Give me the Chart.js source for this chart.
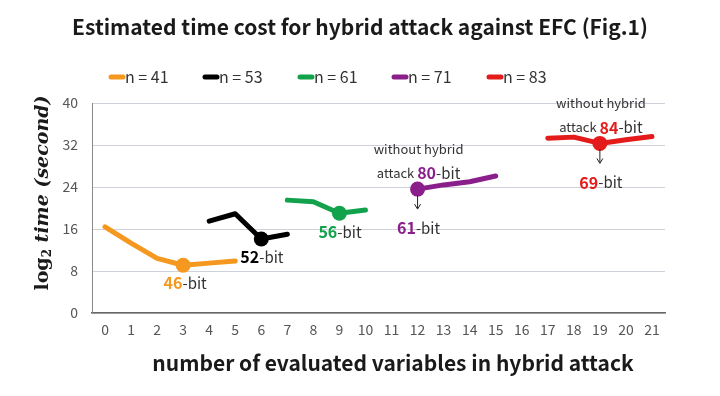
<!DOCTYPE html>
<html>
<head>
<meta charset="utf-8">
<script src="https://cdn.jsdelivr.net/npm/chart.js@4.4.0/dist/chart.umd.min.js"></script>
<style>
  html, body { margin: 0; padding: 0; background: #fff; }
  #wrap { width: 720px; height: 396px; }
</style>
</head>
<body>
<div id="wrap"><canvas id="efc"></canvas></div>
<script>
// x categories: number of evaluated variables
const xLabels = ["0","1","2","3","4","5","6","7","8","9","10","11","12","13","14","15","16","17","18","19","20","21"];
const yTicks = [0, 8, 16, 24, 32, 40];

// log2 time (second), null where the series has no value
const n41 = [16.4, 13.3, 10.4, 9.1, 9.5, 9.9, null, null, null, null, null, null, null, null, null, null, null, null, null, null, null, null];
const n53 = [null, null, null, null, 17.5, 18.9, 14.1, 15.0, null, null, null, null, null, null, null, null, null, null, null, null, null, null];
const n61 = [null, null, null, null, null, null, null, 21.5, 21.2, 19.0, 19.6, null, null, null, null, null, null, null, null, null, null, null];
const n71 = [null, null, null, null, null, null, null, null, null, null, null, null, 23.6, 24.4, 25.0, 26.1, null, null, null, null, null, null];
const n83 = [null, null, null, null, null, null, null, null, null, null, null, null, null, null, null, null, null, 33.3, 33.5, 32.3, 33.0, 33.6];

const seriesNames = ["n = 41", "n = 53", "n = 61", "n = 71", "n = 83"];
const colors = ["#f5981f", "#000000", "#12a24b", "#8a1f8c", "#e41b1b"];
const bestIdx = [3, 6, 9, 12, 19];
const bestBits = ["46", "52", "56", "61", "69"];
const plainBits = [null, null, null, "80", "84"];

const FONT = '"Noto Sans CJK JP", "Noto Sans", sans-serif';

function drawParts(ctx, parts, x, y, align) {
  let w = 0;
  parts.forEach(p => { ctx.font = p[1]; w += ctx.measureText(p[0]).width; });
  let cx = align === "center" ? x - w / 2 : x;
  ctx.textBaseline = "middle";
  ctx.textAlign = "left";
  parts.forEach(p => {
    ctx.font = p[1];
    ctx.fillStyle = p[2];
    ctx.fillText(p[0], cx, y + (p[3] || 0));
    cx += ctx.measureText(p[0]).width;
  });
}

const extras = {
  id: "extras",
  afterDraw(chart) {
    const ctx = chart.ctx;
    const xs = chart.scales.x, ys = chart.scales.y;
    ctx.save();

    // title
    drawParts(ctx, [["Estimated time cost for hybrid attack against EFC (Fig.1)", "bold 21px " + FONT, "#1a1a1a"]], 360, 27, "center");

    // legend
    const legX = [109, 203, 298, 392, 487];
    seriesNames.forEach((name, i) => {
      ctx.strokeStyle = colors[i];
      ctx.lineWidth = 5;
      ctx.lineCap = "round";
      ctx.beginPath();
      ctx.moveTo(legX[i] + 2, 77);
      ctx.lineTo(legX[i] + 14, 77);
      ctx.stroke();
      drawParts(ctx, [[name, "16px " + FONT, "#333"]], legX[i] + 16, 77, "left");
    });

    // x axis title
    drawParts(ctx, [["number of evaluated variables in hybrid attack", "bold 21px " + FONT, "#1a1a1a"]], 393, 363, "center");

    // y axis title
    ctx.save();
    ctx.translate(43, 193);
    ctx.rotate(-Math.PI / 2);
    drawParts(ctx, [
      ["log", "bold 19px 'DejaVu Serif'", "#1a1a1a"],
      ["2", "bold 12px 'DejaVu Serif'", "#1a1a1a", 5],
      [" time", "bold italic 19px 'DejaVu Serif'", "#1a1a1a"],
      [" (second)", "bold italic 19px 'DejaVu Serif'", "#1a1a1a"]
    ], 0, 0, "center");
    ctx.restore();

    // bit labels
    const numFont = "bold 16px " + FONT;
    const bitFont = "15px " + FONT;
    const smallFont = "13px " + FONT;
    const px = i => xs.getPixelForValue(bestIdx[i]);
    const py = i => ys.getPixelForValue(chart.data.datasets[i].data[bestIdx[i]]);

    drawParts(ctx, [[bestBits[0], numFont, colors[0]], ["-bit", bitFont, "#333"]], px(0) + 2, py(0) + 18, "center");
    drawParts(ctx, [[bestBits[1], numFont, colors[1]], ["-bit", bitFont, "#333"]], px(1) - 21, py(1) + 18, "left");
    drawParts(ctx, [[bestBits[2], numFont, colors[2]], ["-bit", bitFont, "#333"]], px(2) - 21, py(2) + 19, "left");

    [3, 4].forEach(i => {
      const x = px(i), y = py(i);
      drawParts(ctx, [["without hybrid", smallFont, "#333"]], x + 1, y - 40, "center");
      drawParts(ctx, [["attack ", smallFont, "#333"], [plainBits[i], numFont, colors[i]], ["-bit", bitFont, "#333"]], x + 1, y - 16, "center");
      // arrow down
      ctx.strokeStyle = "#222";
      ctx.lineWidth = 1;
      ctx.lineCap = "butt";
      ctx.beginPath();
      ctx.moveTo(x, y + 6);
      ctx.lineTo(x, y + 19);
      ctx.stroke();
      ctx.beginPath();
      ctx.moveTo(x - 3, y + 15);
      ctx.lineTo(x, y + 20);
      ctx.lineTo(x + 3, y + 15);
      ctx.stroke();
      drawParts(ctx, [[bestBits[i], numFont, colors[i]], ["-bit", bitFont, "#333"]], x + 1, y + 39, "center");
    });

    ctx.restore();
  }
};

const datasets = [n41, n53, n61, n71, n83].map((d, i) => ({
  label: seriesNames[i],
  data: d,
  borderColor: colors[i],
  backgroundColor: colors[i],
  borderWidth: 5,
  borderCapStyle: "round",
  borderJoinStyle: "round",
  pointRadius: c => c.dataIndex === bestIdx[i] ? 7.5 : 0,
  pointHoverRadius: 0,
  pointBorderWidth: 0,
  spanGaps: false,
  tension: 0
}));

new Chart(document.getElementById("efc"), {
  type: "line",
  data: { labels: xLabels, datasets: datasets },
  options: {
    responsive: true,
    maintainAspectRatio: false,
    animation: false,
    layout: { padding: { left: 0, right: 55, top: 103, bottom: 0 } },
    plugins: {
      legend: { display: false },
      title: { display: false },
      tooltip: { enabled: false }
    },
    scales: {
      x: {
        type: "category",
        offset: true,
        grid: { display: false, drawTicks: false },
        border: { display: true, color: "#666", width: 1.5 },
        ticks: { color: "#555", font: { family: FONT, size: 14 }, padding: 8, maxRotation: 0, autoSkip: false },
        afterFit: s => { s.height = 83; }
      },
      y: {
        min: 0,
        max: 40,
        afterBuildTicks: s => { s.ticks = yTicks.map(v => ({ value: v })); },
        grid: { color: "#cdd1da", lineWidth: 1, drawTicks: false },
        border: { display: true, color: "#888", width: 1 },
        ticks: { color: "#555", font: { family: FONT, size: 14 }, padding: 14 },
        afterFit: s => { s.width = 92; }
      }
    }
  },
  plugins: [extras]
});
</script>
</body>
</html>
